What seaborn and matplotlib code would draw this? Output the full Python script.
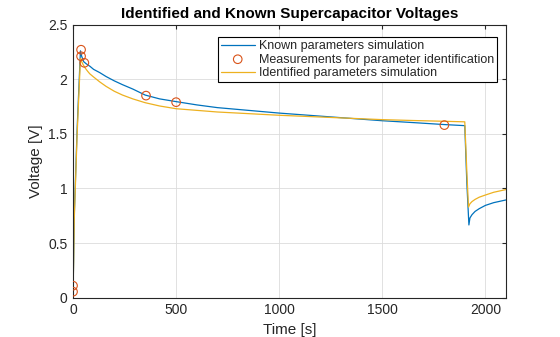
import matplotlib
matplotlib.use("Agg")
import matplotlib.pyplot as plt
import seaborn as sns
import pandas as pd

# Known parameters simulation
known_t = [0, 3, 6, 20, 36, 42, 52, 65, 81, 100, 130, 160, 200, 240, 290, 350, 420, 500, 600, 700, 850, 1000, 1250, 1500, 1650, 1800, 1900,
           1910, 1920, 1925, 1935, 1950, 1970, 2000, 2040, 2100]
known_v = [0.05, 0.35, 0.75, 1.55, 2.26, 2.21, 2.16, 2.14, 2.12, 2.09, 2.06, 2.025, 1.985, 1.95, 1.91, 1.855, 1.82, 1.795, 1.765, 1.74, 1.715, 1.69, 1.655, 1.62, 1.603, 1.585, 1.575,
           1.05, 0.666, 0.73, 0.76, 0.79, 0.815, 0.845, 0.87, 0.895]

# Identified parameters simulation
ident_t = [0, 3, 6, 20, 36, 42, 50, 60, 70, 81, 100, 130, 160, 200, 240, 290, 350, 420, 500, 600, 700, 850, 1000, 1250, 1500, 1650, 1800, 1900,
           1910, 1918, 1925, 1935, 1950, 1970, 2000, 2040, 2100]
ident_v = [0.05, 0.33, 0.72, 1.50, 2.19, 2.16, 2.13, 2.10, 2.075, 2.05, 2.02, 1.975, 1.935, 1.89, 1.855, 1.82, 1.785, 1.755, 1.73, 1.715, 1.70, 1.685, 1.67, 1.65, 1.63, 1.622, 1.615, 1.61,
           1.15, 0.83, 0.86, 0.88, 0.90, 0.92, 0.94, 0.965, 0.99]

# Measurements for parameter identification
meas_t = [0, 0, 39, 39, 55, 354, 500, 1801]
meas_v = [0.055, 0.11, 2.27, 2.21, 2.15, 1.85, 1.79, 1.58]

sns.set_style("white")
plt.rcParams['font.family'] = ['Liberation Sans', 'DejaVu Sans']

fig = plt.figure(figsize=(5.6, 3.37), dpi=100)
ax = fig.add_axes([0.1304, 0.1166, 0.7732, 0.8104])

df_k = pd.DataFrame({"t": known_t, "v": known_v})
df_i = pd.DataFrame({"t": ident_t, "v": ident_v})
df_m = pd.DataFrame({"t": meas_t, "v": meas_v})

sns.lineplot(data=df_k, x="t", y="v", ax=ax, color="#0072BD", linewidth=0.9,
             label="Known parameters simulation", sort=False)
sns.scatterplot(data=df_m, x="t", y="v", ax=ax, marker="o", s=38,
                facecolor="none", edgecolor="#D95319", linewidth=0.8,
                label="Measurements for parameter identification", zorder=5)
sns.lineplot(data=df_i, x="t", y="v", ax=ax, color="#EDB120", linewidth=0.9,
             label="Identified parameters simulation", sort=False)

ax.set_xlim(0, 2100)
ax.set_ylim(0, 2.5)
ax.set_xticks([0, 500, 1000, 1500, 2000])
ax.set_yticks([0, 0.5, 1, 1.5, 2, 2.5])
ax.set_yticklabels(["0", "0.5", "1", "1.5", "2", "2.5"])
ax.grid(True, color="#dcdcdc", linewidth=0.6)
ax.set_axisbelow(True)
for s in ax.spines.values():
    s.set_color("#262626")
    s.set_linewidth(0.8)
ax.tick_params(direction="in", length=3, colors="#262626", labelsize=10, top=True, right=True,
               labeltop=False, labelright=False, pad=4)
ax.set_xlabel("Time [s]", fontsize=11, color="#262626")
ax.set_ylabel("Voltage [V]", fontsize=11, color="#262626")
ax.set_title("Identified and Known Supercapacitor Voltages", fontsize=11, fontweight="bold", color="black", pad=5)

leg = ax.legend(loc="upper right", bbox_to_anchor=(0.98, 0.955), fontsize=9, frameon=True, fancybox=False,
                framealpha=1, edgecolor="black", borderpad=0.25, labelspacing=0.12, handlelength=2.7,
                handletextpad=0.35, borderaxespad=0)
leg.get_frame().set_linewidth(0.8)

fig.savefig("out.png", dpi=100)
